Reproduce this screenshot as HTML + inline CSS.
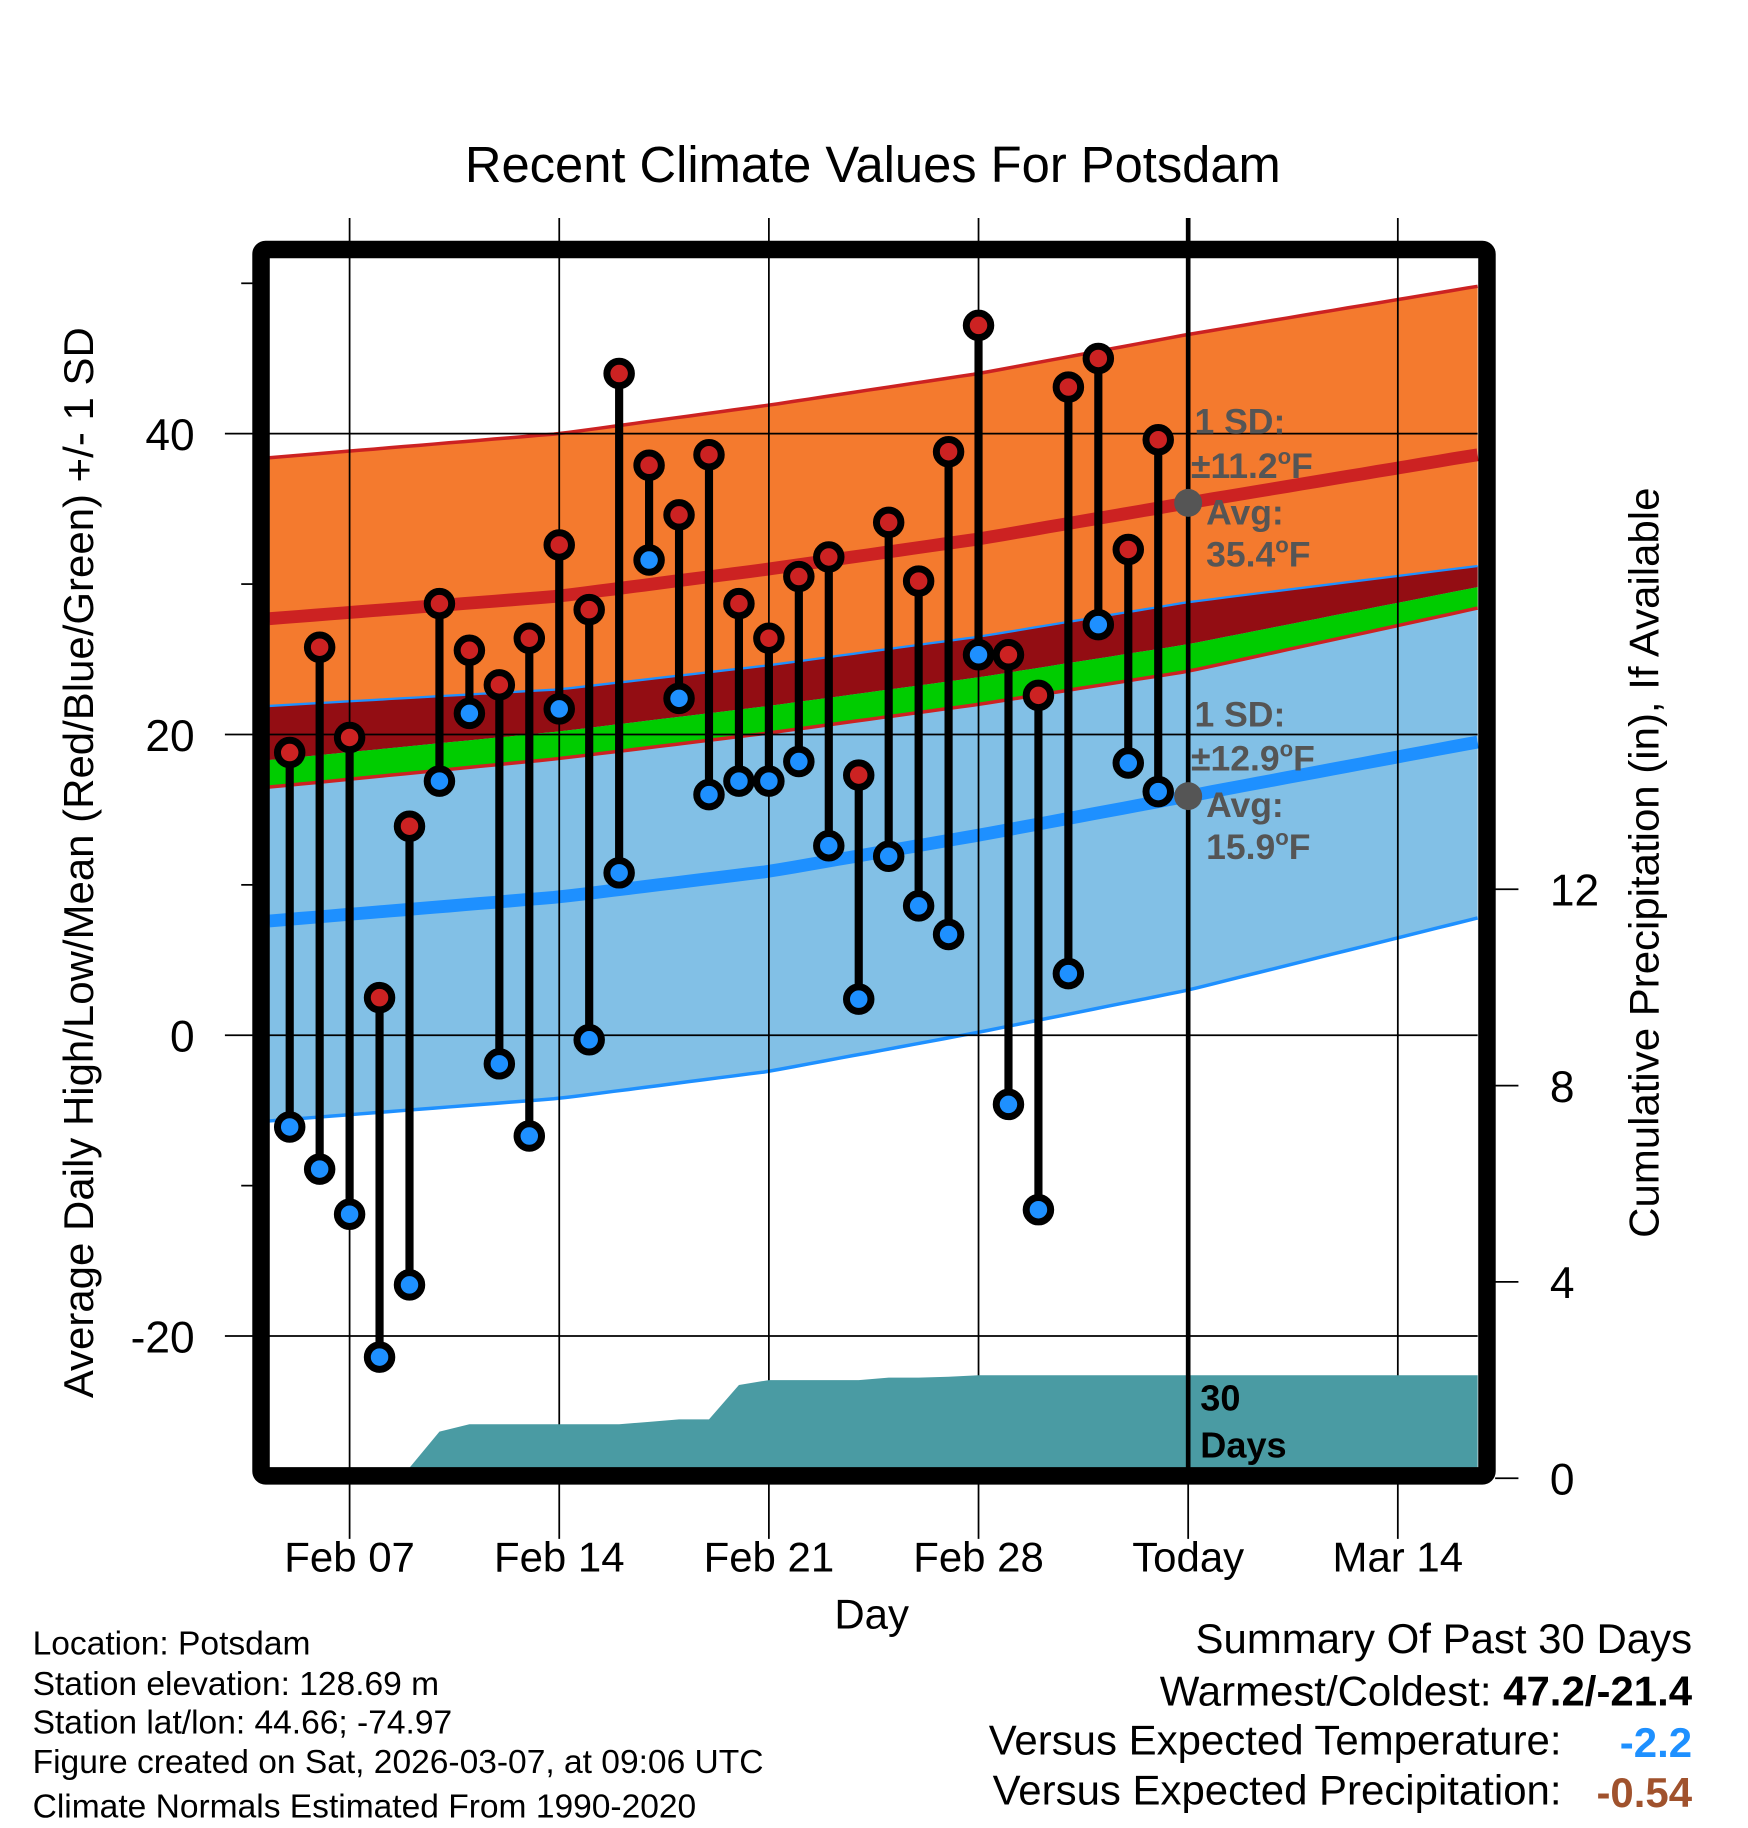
<!DOCTYPE html>
<html><head><meta charset="utf-8"><style>
html,body{margin:0;padding:0;background:#fff;}
svg{display:block;font-family:"Liberation Sans",sans-serif;}
</style></head><body>
<svg id="chart" width="1748" height="1828" viewBox="0 0 1500 1568" preserveAspectRatio="none" xmlns="http://www.w3.org/2000/svg">
<text x="749" y="156" font-size="43.5" text-anchor="middle">Recent Climate Values For Potsdam</text>
<g id="bands"></g>
<g id="grid"></g>
<g id="precip"></g>
<g id="bars"></g>
<g id="frame"></g>
<g id="labels"></g>
<text transform="translate(80,740) rotate(-90)" font-size="36" text-anchor="middle">Average Daily High/Low/Mean (Red/Blue/Green) +/- 1 SD</text>
<text transform="translate(1423,740) rotate(-90)" font-size="36" text-anchor="middle">Cumulative Precipitation (in), If Available</text>
<text x="748" y="1397" font-size="36" text-anchor="middle">Day</text>
<g font-size="28.8">
<text x="28" y="1419">Location: Potsdam</text>
<text x="28" y="1454">Station elevation: 128.69 m</text>
<text x="28" y="1487">Station lat/lon: 44.66; -74.97</text>
<text x="28" y="1521">Figure created on Sat, 2026-03-07, at 09:06 UTC</text>
<text x="28" y="1559">Climate Normals Estimated From 1990-2020</text>
</g>
<g font-size="36">
<text x="1452" y="1418" text-anchor="end">Summary Of Past 30 Days</text>
<text x="1452" y="1463" text-anchor="end">Warmest/Coldest: <tspan font-weight="bold">47.2/-21.4</tspan></text>
<text x="1340" y="1505" text-anchor="end">Versus Expected Temperature:</text>
<text x="1452" y="1507" text-anchor="end" fill="#1e90ff" font-weight="bold">-2.2</text>
<text x="1340" y="1548" text-anchor="end">Versus Expected Precipitation:</text>
<text x="1452" y="1550" text-anchor="end" fill="#a0522d" font-weight="bold">-0.54</text>
</g>
<g font-size="30.5" font-weight="bold" fill="#555">
<text x="1025" y="372">1 SD:</text>
<text x="1022" y="410">±11.2<tspan dy="-12" font-size="19">o</tspan><tspan dy="12">F</tspan></text>
<text x="1035" y="450">Avg:</text>
<text x="1035" y="486">35.4<tspan dy="-12" font-size="19">o</tspan><tspan dy="12">F</tspan></text>
</g>
<g font-size="30.5" font-weight="bold" fill="#555">
<text x="1025" y="623">1 SD:</text>
<text x="1022" y="661">±12.9<tspan dy="-12" font-size="19">o</tspan><tspan dy="12">F</tspan></text>
<text x="1035" y="701">Avg:</text>
<text x="1035" y="737">15.9<tspan dy="-12" font-size="19">o</tspan><tspan dy="12">F</tspan></text>
</g>
<g font-size="31" font-weight="bold">
<text x="1030" y="1210">30</text>
<text x="1030" y="1250">Days</text>
</g>
</svg>
<script>
// normals (deg F) at anchor days (day 0 = Feb 07)
var normDays = [-2.68, 7, 14, 21, 28, 37.66];
var highTop  = [38.4, 40.0, 41.9, 44.0, 46.6, 49.8];
var highMean = [27.7, 29.2, 31.0, 33.0, 35.4, 38.6];
var highBot  = [16.5, 18.4, 20.1, 22.0, 24.2, 28.4];
var greenTop = [18.3, 20.2, 21.9, 23.8, 26.0, 29.8];
var lowTop   = [21.9, 23.0, 24.6, 26.5, 28.8, 31.2];
var lowMean  = [7.6, 9.2, 10.9, 13.3, 15.9, 19.5];
var lowBot   = [-5.7, -4.2, -2.4, 0.2, 3.0, 7.8];
// observations Feb 05 .. Mar 06
var obsDays = [-2,-1,0,1,2,3,4,5,6,7,8,9,10,11,12,13,14,15,16,17,18,19,20,21,22,23,24,25,26,27];
var highs = [18.8,25.8,19.8,2.5,13.9,28.7,25.6,23.3,26.4,32.6,28.3,44.0,37.9,34.6,38.6,28.7,26.4,30.5,31.8,17.3,34.1,30.2,38.8,47.2,25.3,22.6,43.1,45.0,32.3,39.6];
var lows  = [-6.1,-8.9,-11.9,-21.4,-16.6,16.9,21.4,-1.9,-6.7,21.7,-0.3,10.8,31.6,22.4,16.0,16.9,16.9,18.2,12.6,2.4,11.9,8.6,6.7,25.3,-4.6,-11.6,4.1,27.3,18.1,16.2];
var precip = [0,0,0,0,0,0.95,1.1,1.1,1.1,1.1,1.1,1.1,1.15,1.2,1.2,1.9,2.0,2.0,2.0,2.0,2.05,2.05,2.07,2.1,2.1,2.1,2.1,2.1,2.1,2.1];
var xTickDays = [0,7,14,21,28,35];
var xTickLabels = ["Feb 07","Feb 14","Feb 21","Feb 28","Today","Mar 14"];
var yTicks = [40,20,0,-20];
var yMinor = [50,30,10,-10];
var pTicks = [0,4,8,12];

var NS="http://www.w3.org/2000/svg";
var L=231,R=1268,T=222,B=1259;
function X(d){return 300+25.7*d;}
function Y(v){return 888-12.9*v;}
function P(v){return Math.min(B,1268-42.1*v);}
function mk(tag,attrs,parent){var e=document.createElementNS(NS,tag);for(var k in attrs)e.setAttribute(k,attrs[k]);parent.appendChild(e);return e;}
function interp(arr,d){for(var i=0;i<normDays.length-1;i++){if(d<=normDays[i+1]||i==normDays.length-2){var t=(d-normDays[i])/(normDays[i+1]-normDays[i]);return arr[i]+t*(arr[i+1]-arr[i]);}}}
function curve(arr){var pts=[];for(var d=normDays[0];d<=normDays[normDays.length-1]+0.001;d+=0.5){pts.push([X(d),Y(interp(arr,d))]);}pts.push([R,Y(arr[arr.length-1])]);return pts;}
function ps(p){return p.map(function(q){return q[0].toFixed(1)+","+q[1].toFixed(1);}).join(" ");}
function band(a,b,color,name,parent){var p=curve(a).concat(curve(b).reverse());var e=mk("polygon",{points:ps(p),fill:color},parent);

}
function line(a,color,w,name,parent){var e=mk("polyline",{points:ps(curve(a)),fill:"none",stroke:color,"stroke-width":w},parent);

}

var gB=document.getElementById("bands");
band(highTop,highBot,"#f47a2e","high-sd-band",gB);
band(lowTop,lowBot,"#82c0e6","low-sd-band",gB);
band(lowTop,greenTop,"#930d13","overlap-band",gB);
band(greenTop,highBot,"#00cc00","mean-band",gB);
line(highTop,"#cc2222",3,"high-upper-line",gB);
line(highBot,"#cc2222",3,"high-lower-line",gB);
line(highMean,"#cc2222",11,"high-mean-line",gB);
line(lowTop,"#1e90ff",2,"low-upper-line",gB);
line(lowBot,"#1e90ff",3,"low-lower-line",gB);
line(lowMean,"#1e90ff",11,"low-mean-line",gB);

var gG=document.getElementById("grid");
yTicks.forEach(function(v){var e=mk("line",{x1:193,x2:R,y1:Y(v),y2:Y(v),stroke:"#000","stroke-width":1.5},gG);


var t=mk("text",{x:167,y:Y(v)+14,"font-size":38,"text-anchor":"end"},document.getElementById("labels"));t.textContent=v;

});
yMinor.forEach(function(v){var e=mk("line",{x1:207,x2:217,y1:Y(v),y2:Y(v),stroke:"#000","stroke-width":1.5},gG);

});
xTickDays.forEach(function(d,i){var e=mk("line",{x1:X(d),x2:X(d),y1:187,y2:1320,stroke:"#000","stroke-width":1.5},gG);


var t=mk("text",{x:X(d),y:1348,"font-size":36,"text-anchor":"middle"},document.getElementById("labels"));t.textContent=xTickLabels[i];

});
pTicks.forEach(function(v){var y=1268-42.1*v;var e=mk("line",{x1:1283,x2:1303,y1:y,y2:y,stroke:"#000","stroke-width":1.5},gG);


var t=mk("text",{x:1330,y:y+14,"font-size":38},document.getElementById("labels"));t.textContent=v;

});

var gP=document.getElementById("precip");
var pp=[[X(obsDays[0]),B]];
obsDays.forEach(function(d,i){pp.push([X(d),P(precip[i])]);});
pp.push([R,P(precip[precip.length-1])]);pp.push([R,B]);
var pe=mk("polygon",{points:ps(pp),fill:"#4a9ba3"},gP);



var gBar=document.getElementById("bars");
var tl=mk("line",{x1:X(28),x2:X(28),y1:187,y2:B,stroke:"#000","stroke-width":4},gBar);


[highMean,lowMean].forEach(function(a,i){var c=mk("circle",{cx:X(28),cy:Y(a[4]),r:12,fill:"#555"},gBar);

});
obsDays.forEach(function(d,i){
var s=mk("line",{x1:X(d),x2:X(d),y1:Y(highs[i]),y2:Y(lows[i]),stroke:"#000","stroke-width":7},gBar);


[[highs[i],"#cc2222","high-point"],[lows[i],"#1e90ff","low-point"]].forEach(function(q){
var o=mk("circle",{cx:X(d),cy:Y(q[0]),r:10.5,fill:q[1],stroke:"#000","stroke-width":6},gBar);

});});

var fr=mk("rect",{x:224,y:214,width:1052,height:1052,rx:4,fill:"none",stroke:"#000","stroke-width":15},document.getElementById("frame"));


</script>
</body></html>
